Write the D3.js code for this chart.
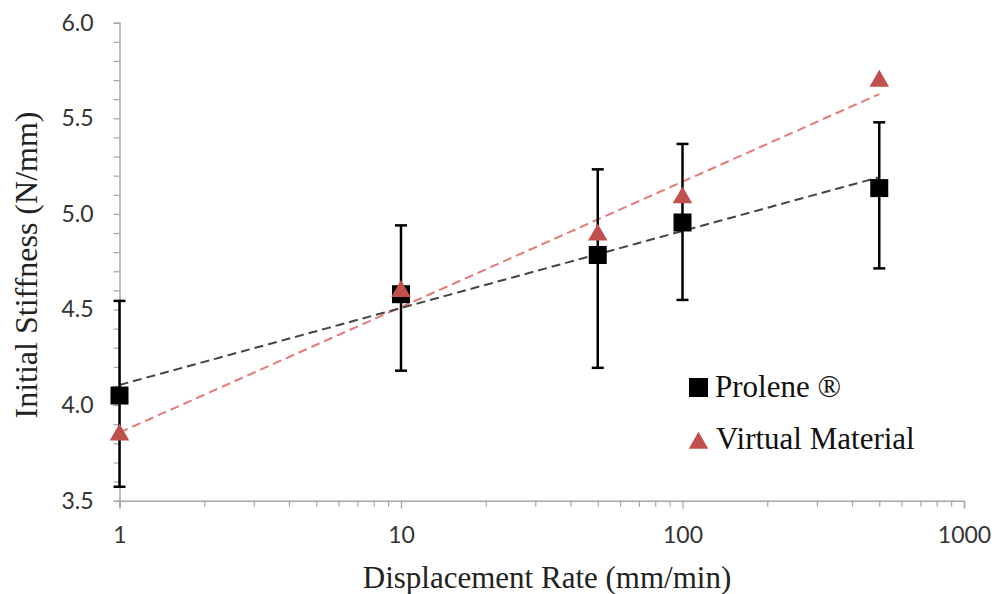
<!DOCTYPE html>
<html><head><meta charset="utf-8">
<script src="https://cdn.jsdelivr.net/npm/d3@7"></script>
<style>html,body{margin:0;padding:0;background:#fff;}svg{display:block;}</style>
</head><body>
<svg id="chart" width="1006" height="594"></svg>
<script>
// ---- data ----
const rates = [1, 10, 50, 100, 500];
const proleneValues = [4.05, 4.58, 4.785, 4.955, 5.135];
const proleneErrHigh = [4.545, 4.94, 5.233, 5.366, 5.479];
const proleneErrLow = [3.573, 4.18, 4.195, 4.55, 4.715];
const virtualValues = [3.85, 4.60, 4.895, 5.09, 5.70];
const xTickValues = [1, 10, 100, 1000];
const yTickValues = [3.5, 4.0, 4.5, 5.0, 5.5, 6.0];
const seriesNames = ["Prolene ®", "Virtual Material"];

(function () {
const svg = d3.select("#chart");
const pL = 119.5, pR = 964, pT = 22.7, pB = 500.7;
const x = d3.scaleLog().domain([1, 1000]).range([pL, pR]);
const y = d3.scaleLinear().domain([3.5, 6.0]).range([pB, pT]);

const axisColor = "#a6a6a6";
const tickFont = "Lato, 'Open Sans', sans-serif";
const serif = "'Liberation Serif', 'DejaVu Serif', serif";

// y axis
const yMinor = d3.range(35, 61).map(v => v / 10);
const yAxis = d3.axisLeft(y).tickValues(yMinor).tickSize(6)
  .tickFormat(d => yTickValues.some(t => Math.abs(t - d) < 1e-9) ? d3.format(".1f")(d) : "");
const gy = svg.append("g").attr("transform", `translate(${pL},0)`).call(yAxis);
gy.select(".domain").attr("stroke", axisColor).attr("stroke-width", 1.5);
gy.selectAll(".tick line").attr("stroke", axisColor).attr("stroke-width", 1.2);
gy.selectAll(".tick text").attr("font-family", tickFont).attr("font-size", 23)
  .attr("fill", "#333").attr("x", -26);

// x axis
const xMinor = [];
[1, 10, 100].forEach(d => { for (let k = 1; k < 10; k++) xMinor.push(d * k); });
xMinor.push(1000);
const xAxis = d3.axisBottom(x).tickValues(xMinor).tickSizeOuter(0)
  .tickSize(7)
  .tickFormat(d => xTickValues.includes(d) ? String(d) : "");
const gx = svg.append("g").attr("transform", `translate(0,${pB})`).call(xAxis);
gx.select(".domain").attr("stroke", axisColor).attr("stroke-width", 1.5);
gx.selectAll(".tick line").attr("stroke", axisColor).attr("stroke-width", 1.2)
  .attr("y2", d => xTickValues.includes(d) ? 8 : 6);
gx.selectAll(".tick text").attr("font-family", tickFont).attr("font-size", 23)
  .attr("fill", "#333").attr("y", 26);

// axis titles
svg.append("text").attr("x", 547).attr("y", 588).attr("text-anchor", "middle")
  .attr("font-family", serif).attr("font-size", 31).attr("fill", "#222")
  .text("Displacement Rate (mm/min)");
svg.append("text").attr("transform", "translate(37,265) rotate(-90)")
  .attr("text-anchor", "middle").attr("font-family", serif).attr("font-size", 32)
  .attr("fill", "#222").text("Initial Stiffness (N/mm)");

// logarithmic trendlines (least squares on ln x)
function logFit(xs, ys) {
  const lx = xs.map(Math.log);
  const mx = d3.mean(lx), my = d3.mean(ys);
  let sxy = 0, sxx = 0;
  lx.forEach((v, i) => { sxy += (v - mx) * (ys[i] - my); sxx += (v - mx) ** 2; });
  const a = sxy / sxx, b = my - a * mx;
  return t => a * Math.log(t) + b;
}
const l0 = Math.log10(rates[0]), l1 = Math.log10(rates[rates.length - 1]);
const trendPts = d3.range(0, 101).map(i => Math.pow(10, l0 + i / 100 * (l1 - l0)));
const line = d3.line().x(d => x(d[0])).y(d => y(d[1]));
const fitP = logFit(rates, proleneValues);
const fitV = logFit(rates, virtualValues);
svg.append("path").attr("d", line(trendPts.map(t => [t, fitV(t)])))
  .attr("fill", "none").attr("stroke", "#e57a74").attr("stroke-width", 2)
  .attr("stroke-dasharray", "9,5");
svg.append("path").attr("d", line(trendPts.map(t => [t, fitP(t)])))
  .attr("fill", "none").attr("stroke", "#444").attr("stroke-width", 2)
  .attr("stroke-dasharray", "9,5");

// error bars
const eb = svg.append("g").attr("stroke", "#000").attr("stroke-width", 2.5);
rates.forEach((r, i) => {
  const cx = x(r);
  eb.append("line").attr("x1", cx).attr("x2", cx).attr("y1", y(proleneErrHigh[i])).attr("y2", y(proleneErrLow[i]));
  eb.append("line").attr("x1", cx - 6).attr("x2", cx + 6).attr("y1", y(proleneErrHigh[i])).attr("y2", y(proleneErrHigh[i]));
  eb.append("line").attr("x1", cx - 6).attr("x2", cx + 6).attr("y1", y(proleneErrLow[i])).attr("y2", y(proleneErrLow[i]));
});

// markers
const sq = 18;
svg.append("g").selectAll("rect").data(rates).join("rect")
  .attr("x", d => x(d) - sq / 2).attr("y", (d, i) => y(proleneValues[i]) - sq / 2)
  .attr("width", sq).attr("height", sq).attr("fill", "#000");
const tri = d3.symbol().type(d3.symbolTriangle).size(165);
svg.append("g").selectAll("path").data(rates).join("path")
  .attr("d", tri)
  .attr("transform", (d, i) => `translate(${x(d)},${y(virtualValues[i]) + 1})`)
  .attr("fill", "#c0504d");

// legend
const lg = svg.append("g");
lg.append("rect").attr("x", 689).attr("y", 378).attr("width", 19).attr("height", 19).attr("fill", "#000");
lg.append("text").attr("x", 715).attr("y", 397).attr("font-family", serif).attr("font-size", 31)
  .attr("fill", "#111").text(seriesNames[0]);
lg.append("path").attr("d", tri).attr("transform", "translate(698.5,443)").attr("fill", "#c0504d");
lg.append("text").attr("x", 716).attr("y", 449).attr("font-family", serif).attr("font-size", 31)
  .attr("fill", "#111").text(seriesNames[1]);
})();
</script>
</body></html>
